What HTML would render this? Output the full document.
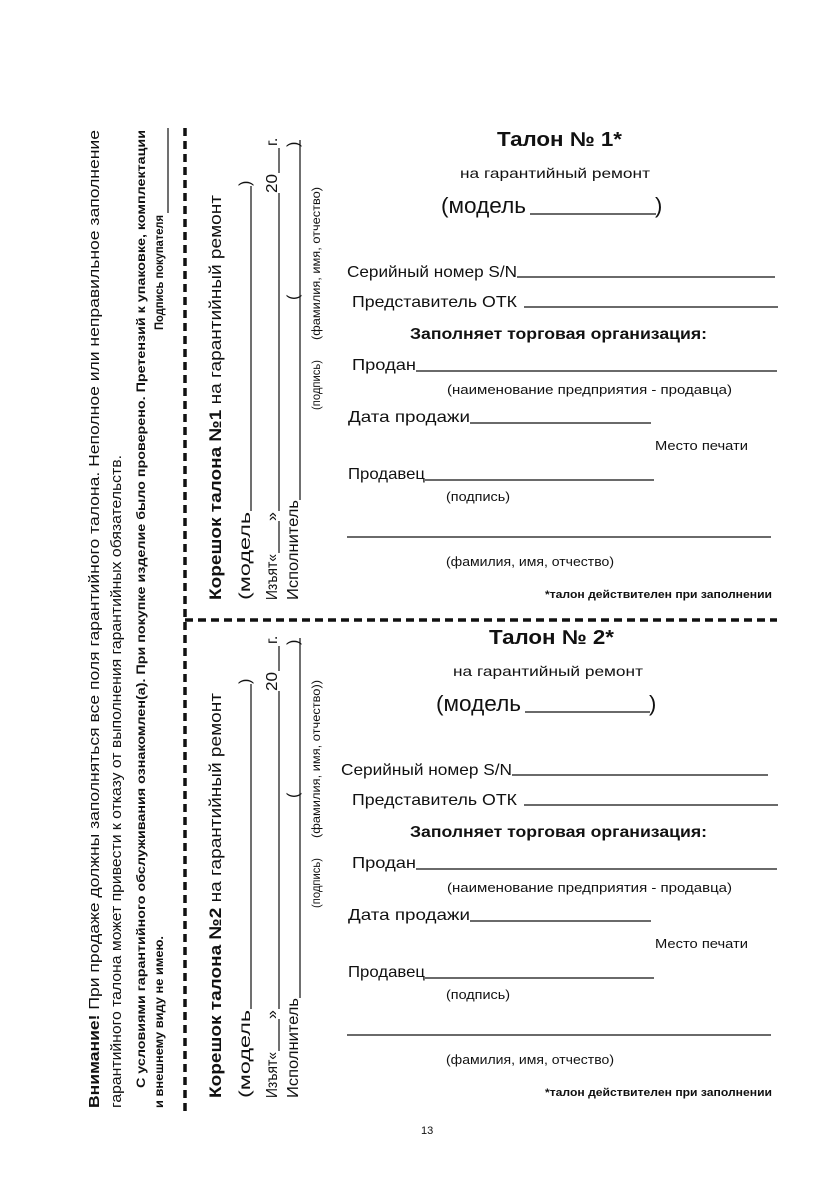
<!DOCTYPE html>
<html><head><meta charset="utf-8"><style>
html,body{margin:0;padding:0;background:#fff;}
svg{display:block;}
text{font-family:"Liberation Sans","DejaVu Sans",sans-serif;fill:#111;}
.b{font-weight:bold;}
</style></head><body>
<svg width="839" height="1191" viewBox="0 0 839 1191" xmlns="http://www.w3.org/2000/svg">
<rect width="839" height="1191" fill="#fff"/>
<g stroke="#111" fill="none">
<line x1="185" y1="128" x2="185" y2="1112" stroke-width="3.5" stroke-dasharray="8,5"/>
<line x1="185" y1="620" x2="777" y2="620" stroke-width="3.5" stroke-dasharray="8,5"/>
</g>
<!-- left notice -->
<text transform="translate(99,1108) rotate(-90)" font-size="15" textLength="978" lengthAdjust="spacingAndGlyphs"><tspan class="b">Внимание!</tspan> При продаже должны заполняться все поля гарантийного талона. Неполное или неправильное заполнение</text>
<text transform="translate(121,1108) rotate(-90)" font-size="15" textLength="653" lengthAdjust="spacingAndGlyphs">гарантийного талона может привести к отказу от выполнения гарантийных обязательств.</text>
<text class="b" transform="translate(145,1088) rotate(-90)" font-size="12" textLength="958" lengthAdjust="spacingAndGlyphs">С условиями гарантийного обслуживания ознакомлен(а). При покупке изделие было проверено. Претензий к упаковке, комплектации</text>
<text class="b" transform="translate(163,1108) rotate(-90)" font-size="12" textLength="172" lengthAdjust="spacingAndGlyphs">и внешнему виду не имею.</text>
<text class="b" transform="translate(163,330) rotate(-90)" font-size="12" textLength="115" lengthAdjust="spacingAndGlyphs">Подпись покупателя</text>
<line x1="168" y1="213" x2="168" y2="128" stroke="#111" stroke-width="1.2"/>

<!-- stub 1 -->
<g id="stub1">
<text transform="translate(221,600) rotate(-90)" font-size="17" textLength="405" lengthAdjust="spacingAndGlyphs"><tspan class="b">Корешок талона №1</tspan> на гарантийный ремонт</text>
<text transform="translate(250,600) rotate(-90)" font-size="16" textLength="88" lengthAdjust="spacingAndGlyphs">(модель</text>
<line x1="251" y1="511" x2="251" y2="186" stroke="#111" stroke-width="1.2"/>
<text transform="translate(250,186) rotate(-90)" font-size="16">)</text>
<text transform="translate(277,600) rotate(-90)" font-size="16" textLength="46" lengthAdjust="spacingAndGlyphs">Изъят«</text>
<line x1="279" y1="553" x2="279" y2="521" stroke="#111" stroke-width="1.2"/>
<text transform="translate(277,521) rotate(-90)" font-size="16">»</text>
<line x1="279" y1="511" x2="279" y2="193" stroke="#111" stroke-width="1.2"/>
<text transform="translate(277,193) rotate(-90)" font-size="16" textLength="19" lengthAdjust="spacingAndGlyphs">20</text>
<line x1="279" y1="173" x2="279" y2="148" stroke="#111" stroke-width="1.2"/>
<text transform="translate(277,146) rotate(-90)" font-size="16">г.</text>
<text transform="translate(298,600) rotate(-90)" font-size="16" textLength="100" lengthAdjust="spacingAndGlyphs">Исполнитель</text>
<line x1="300" y1="500" x2="300" y2="140" stroke="#111" stroke-width="1.2"/>
<text transform="translate(298,300) rotate(-90)" font-size="16">(</text>
<text transform="translate(298,147) rotate(-90)" font-size="16">)</text>
<text transform="translate(320,410) rotate(-90)" font-size="12" textLength="50" lengthAdjust="spacingAndGlyphs">(подпись)</text>
<text transform="translate(320,340) rotate(-90)" font-size="12" textLength="153" lengthAdjust="spacingAndGlyphs">(фамилия, имя, отчество)</text>
</g>
<!-- stub 2 -->
<g transform="translate(0,498)">
<text transform="translate(221,600) rotate(-90)" font-size="17" textLength="405" lengthAdjust="spacingAndGlyphs"><tspan class="b">Корешок талона №2</tspan> на гарантийный ремонт</text>
<text transform="translate(250,600) rotate(-90)" font-size="16" textLength="88" lengthAdjust="spacingAndGlyphs">(модель</text>
<line x1="251" y1="511" x2="251" y2="186" stroke="#111" stroke-width="1.2"/>
<text transform="translate(250,186) rotate(-90)" font-size="16">)</text>
<text transform="translate(277,600) rotate(-90)" font-size="16" textLength="46" lengthAdjust="spacingAndGlyphs">Изъят«</text>
<line x1="279" y1="553" x2="279" y2="521" stroke="#111" stroke-width="1.2"/>
<text transform="translate(277,521) rotate(-90)" font-size="16">»</text>
<line x1="279" y1="511" x2="279" y2="193" stroke="#111" stroke-width="1.2"/>
<text transform="translate(277,193) rotate(-90)" font-size="16" textLength="19" lengthAdjust="spacingAndGlyphs">20</text>
<line x1="279" y1="173" x2="279" y2="148" stroke="#111" stroke-width="1.2"/>
<text transform="translate(277,146) rotate(-90)" font-size="16">г.</text>
<text transform="translate(298,600) rotate(-90)" font-size="16" textLength="100" lengthAdjust="spacingAndGlyphs">Исполнитель</text>
<line x1="300" y1="500" x2="300" y2="140" stroke="#111" stroke-width="1.2"/>
<text transform="translate(298,300) rotate(-90)" font-size="16">(</text>
<text transform="translate(298,147) rotate(-90)" font-size="16">)</text>
<text transform="translate(320,410) rotate(-90)" font-size="12" textLength="50" lengthAdjust="spacingAndGlyphs">(подпись)</text>
<text transform="translate(320,340) rotate(-90)" font-size="12" textLength="158" lengthAdjust="spacingAndGlyphs">(фамилия, имя, отчество))</text>
</g>

<!-- talon 1 -->
<g>
<text class="b" x="497" y="146" font-size="20" textLength="125" lengthAdjust="spacingAndGlyphs">Талон № 1*</text>
<text x="460" y="178" font-size="14" textLength="190" lengthAdjust="spacingAndGlyphs">на гарантийный ремонт</text>
<text x="441" y="213" font-size="22" textLength="85" lengthAdjust="spacingAndGlyphs">(модель</text>
<line x1="530" y1="214" x2="656" y2="214" stroke="#111" stroke-width="1.3"/>
<text x="655" y="213" font-size="22">)</text>
<text x="347" y="277" font-size="16" textLength="170" lengthAdjust="spacingAndGlyphs">Серийный номер S/N</text>
<line x1="517" y1="277" x2="775" y2="277" stroke="#111" stroke-width="1.2"/>
<text x="352" y="307" font-size="16" textLength="165" lengthAdjust="spacingAndGlyphs">Представитель ОТК</text>
<line x1="524" y1="307" x2="778" y2="307" stroke="#111" stroke-width="1.2"/>
<text class="b" x="410" y="339" font-size="16" textLength="297" lengthAdjust="spacingAndGlyphs">Заполняет торговая организация:</text>
<text x="352" y="370" font-size="16" textLength="64" lengthAdjust="spacingAndGlyphs">Продан</text>
<line x1="416" y1="371" x2="777" y2="371" stroke="#111" stroke-width="1.2"/>
<text x="447" y="394" font-size="13" textLength="285" lengthAdjust="spacingAndGlyphs">(наименование предприятия - продавца)</text>
<text x="348" y="422" font-size="16" textLength="122" lengthAdjust="spacingAndGlyphs">Дата продажи</text>
<line x1="470" y1="423" x2="651" y2="423" stroke="#111" stroke-width="1.2"/>
<text x="655" y="450" font-size="13" textLength="93" lengthAdjust="spacingAndGlyphs">Место печати</text>
<text x="348" y="479" font-size="16" textLength="77" lengthAdjust="spacingAndGlyphs">Продавец</text>
<line x1="425" y1="480" x2="654" y2="480" stroke="#111" stroke-width="1.2"/>
<text x="446" y="501" font-size="13" textLength="64" lengthAdjust="spacingAndGlyphs">(подпись)</text>
<line x1="347" y1="537" x2="771" y2="537" stroke="#111" stroke-width="1.2"/>
<text x="446" y="566" font-size="13" textLength="168" lengthAdjust="spacingAndGlyphs">(фамилия, имя, отчество)</text>
<text class="b" x="545" y="598" font-size="11" textLength="227" lengthAdjust="spacingAndGlyphs">*талон действителен при заполнении</text>
</g>
<!-- talon 2 -->
<g transform="translate(0,498)">
<text class="b" x="489" y="146" font-size="20" textLength="125" lengthAdjust="spacingAndGlyphs">Талон № 2*</text>
<text x="453" y="178" font-size="14" textLength="190" lengthAdjust="spacingAndGlyphs">на гарантийный ремонт</text>
<text x="436" y="213" font-size="22" textLength="85" lengthAdjust="spacingAndGlyphs">(модель</text>
<line x1="525" y1="214" x2="650" y2="214" stroke="#111" stroke-width="1.3"/>
<text x="649" y="213" font-size="22">)</text>
<text x="341" y="277" font-size="16" textLength="171" lengthAdjust="spacingAndGlyphs">Серийный номер S/N</text>
<line x1="512" y1="277" x2="768" y2="277" stroke="#111" stroke-width="1.2"/>
<text x="352" y="307" font-size="16" textLength="165" lengthAdjust="spacingAndGlyphs">Представитель ОТК</text>
<line x1="524" y1="307" x2="778" y2="307" stroke="#111" stroke-width="1.2"/>
<text class="b" x="410" y="339" font-size="16" textLength="297" lengthAdjust="spacingAndGlyphs">Заполняет торговая организация:</text>
<text x="352" y="370" font-size="16" textLength="64" lengthAdjust="spacingAndGlyphs">Продан</text>
<line x1="416" y1="371" x2="777" y2="371" stroke="#111" stroke-width="1.2"/>
<text x="447" y="394" font-size="13" textLength="285" lengthAdjust="spacingAndGlyphs">(наименование предприятия - продавца)</text>
<text x="348" y="422" font-size="16" textLength="122" lengthAdjust="spacingAndGlyphs">Дата продажи</text>
<line x1="470" y1="423" x2="651" y2="423" stroke="#111" stroke-width="1.2"/>
<text x="655" y="450" font-size="13" textLength="93" lengthAdjust="spacingAndGlyphs">Место печати</text>
<text x="348" y="479" font-size="16" textLength="77" lengthAdjust="spacingAndGlyphs">Продавец</text>
<line x1="425" y1="480" x2="654" y2="480" stroke="#111" stroke-width="1.2"/>
<text x="446" y="501" font-size="13" textLength="64" lengthAdjust="spacingAndGlyphs">(подпись)</text>
<line x1="347" y1="537" x2="771" y2="537" stroke="#111" stroke-width="1.2"/>
<text x="446" y="566" font-size="13" textLength="168" lengthAdjust="spacingAndGlyphs">(фамилия, имя, отчество)</text>
<text class="b" x="545" y="598" font-size="11" textLength="227" lengthAdjust="spacingAndGlyphs">*талон действителен при заполнении</text>
</g>
<text x="421" y="1134" font-size="11">13</text>
</svg>
</body></html>
